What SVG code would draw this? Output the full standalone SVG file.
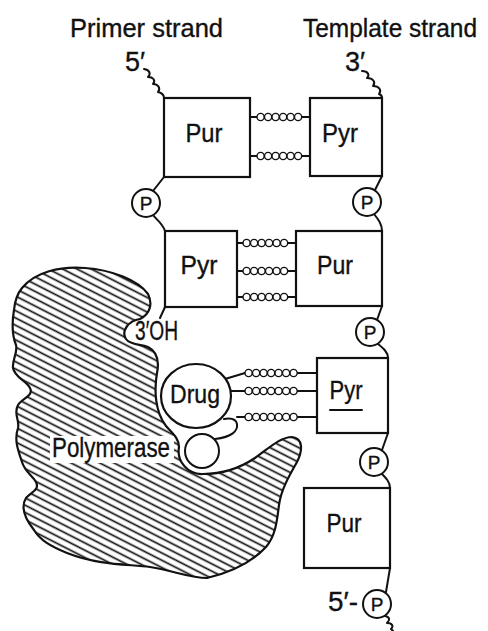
<svg xmlns="http://www.w3.org/2000/svg" xmlns:xlink="http://www.w3.org/1999/xlink" width="488" height="631" viewBox="0 0 488 631">
  <style>
    .ln { fill: none; stroke: #111; stroke-width: 2; stroke-linecap: round; stroke-linejoin: round; }
    .box { fill: #fff; stroke: #111; stroke-width: 2.2; }
    .bead { fill: #fff; stroke: #111; stroke-width: 1.4; }
    .pc { fill: #fff; stroke: #111; stroke-width: 2; }
    text { font-family: "Liberation Sans", Arial, sans-serif; fill: #111; stroke: #111; stroke-width: 0.35; }
    .lbl { font-size: 27px; }
    .title { font-size: 25px; }
    .base { font-size: 26px; text-anchor: middle; }
    .p { font-size: 19px; text-anchor: middle; }
  </style>
  <defs>
    <pattern id="hatch" patternUnits="userSpaceOnUse" width="6.5" height="6.5" patternTransform="rotate(27)">
      <line x1="0" y1="3.25" x2="6.5" y2="3.25" stroke="#111" stroke-width="1.7"/>
    </pattern>
    <g id="chain6">
      <circle class="bead" cx="0" cy="0" r="3.6"/>
      <circle class="bead" cx="7.5" cy="0" r="3.6"/>
      <circle class="bead" cx="15" cy="0" r="3.6"/>
      <circle class="bead" cx="22.5" cy="0" r="3.6"/>
      <circle class="bead" cx="30" cy="0" r="3.6"/>
      <circle class="bead" cx="37.5" cy="0" r="3.6"/>
    </g>
    <g id="chain7">
      <use xlink:href="#chain6"/>
      <circle class="bead" cx="45" cy="0" r="3.6"/>
    </g>
  </defs>

  <rect width="488" height="631" fill="#fff"/>

  <!-- strand titles -->
  <g id="titles">
    <text class="title" x="70" y="37" textLength="153" lengthAdjust="spacingAndGlyphs">Primer strand</text>
    <text class="title" x="303" y="37" textLength="174" lengthAdjust="spacingAndGlyphs">Template strand</text>
    <text class="lbl" x="125" y="71" font-size="24">5′</text>
    <text class="lbl" x="345" y="71" font-size="24">3′</text>
  </g>

  <!-- polymerase enzyme -->
  <g id="polymerase">
    <path d="M 22,288 C 35,272 60,266 85,268 C 112,270 138,280 148,294 C 153,304 150,314 140,319 C 128,321 121,331 126,339 C 130,345 140,344 148,347 C 158,352 159,363 157,373 C 154,390 155,412 166,426 C 172,433 179,438 179,447 A 23,23 0 0 0 203,474 C 222,474 240,468 255,458 C 268,449 280,437 292,437 C 303,438 303,450 297,462 C 289,476 281,490 279,505 C 277,520 276,535 266,547 C 252,562 232,572 207,578 C 190,578 175,571 150,567 C 130,564 100,566 67,553 C 50,546 40,540 34,530 C 26,520 20,508 26,498 C 31,492 40,490 36,482 C 32,475 25,472 22,462 C 18,450 14,440 18,428 C 20,420 13,414 18,405 C 22,398 34,396 30,388 C 26,380 15,378 13,368 C 12,360 18,352 16,345 C 12,335 12,322 14,310 C 15,300 17,294 22,288 Z" fill="url(#hatch)" stroke="#111" stroke-width="2.2"/>
    <rect x="50" y="436" width="124" height="27" fill="#fff"/>
    <text class="lbl" x="52" y="457" font-size="25" textLength="118" lengthAdjust="spacingAndGlyphs">Polymerase</text>
    <path class="ln" d="M 224,419 C 230,418 236,419 237,424 C 238,431 232,437 215,439"/>
    <circle id="site" cx="202" cy="451" r="17" fill="#fff" stroke="#111" stroke-width="2"/>
  </g>

  <!-- connectors: backbones and base-pair bonds -->
  <g id="connectors">
    <!-- primer backbone -->
    <path class="ln" d="M 144,69 C 150,70 151,74 148,77 C 153,77 156,80 153,84 C 158,84 161,88 158,92 C 162,93 164,95 164,98"/>
    <path class="ln" d="M 164,177 L 153,191"/>
    <path class="ln" d="M 153,215 C 157,220 163,224 165,231"/>
    <path class="ln" d="M 165,307 L 160,318"/>
    <!-- template backbone -->
    <path class="ln" d="M 362,71 C 368,71 370,75 367,78 C 373,78 376,82 373,86 C 379,86 382,90 379,94 C 382,95 382,97 382,98"/>
    <path class="ln" d="M 382,176 L 375,190"/>
    <path class="ln" d="M 374,214 C 378,219 382,224 382,231"/>
    <path class="ln" d="M 382,306 L 377,320"/>
    <path class="ln" d="M 378,344 C 383,348 388,352 388,358"/>
    <path class="ln" d="M 388,433 L 382,450"/>
    <path class="ln" d="M 382,474 C 386,478 390,482 390,488"/>
    <path class="ln" d="M 390,568 L 386,592"/>
    <path class="ln" d="M 385,616 C 390,617 390,620 387,623 C 392,623 394,626 391,629 L 393,631"/>
    <!-- bonds, row 1 -->
    <line class="ln" x1="250" y1="117" x2="310" y2="117" stroke-width="1.6"/>
    <line class="ln" x1="250" y1="156" x2="310" y2="156" stroke-width="1.6"/>
    <use xlink:href="#chain6" x="260.6" y="117"/>
    <use xlink:href="#chain6" x="260.6" y="156"/>
    <!-- bonds, row 2 -->
    <line class="ln" x1="237" y1="243" x2="296" y2="243" stroke-width="1.6"/>
    <line class="ln" x1="237" y1="271" x2="296" y2="271" stroke-width="1.6"/>
    <line class="ln" x1="237" y1="297" x2="296" y2="297" stroke-width="1.6"/>
    <use xlink:href="#chain6" x="246.6" y="243"/>
    <use xlink:href="#chain6" x="246.6" y="271"/>
    <use xlink:href="#chain6" x="246.6" y="297"/>
    <!-- bonds, drug to template -->
    <path class="ln" d="M 225,379 L 245,373 L 317,373" stroke-width="1.6"/>
    <line class="ln" x1="231" y1="391" x2="317" y2="391" stroke-width="1.6"/>
    <line class="ln" x1="237" y1="417" x2="317" y2="417" stroke-width="1.6"/>
    <use xlink:href="#chain7" x="248.6" y="373"/>
    <use xlink:href="#chain7" x="248.6" y="391"/>
    <use xlink:href="#chain7" x="248.6" y="417"/>
  </g>

  <!-- bases -->
  <g id="pur1"><rect class="box" x="164" y="98" width="86" height="79"/><text class="base" x="204" y="142" textLength="37" lengthAdjust="spacingAndGlyphs">Pur</text></g>
  <g id="pyr1"><rect class="box" x="310" y="98" width="72" height="78"/><text class="base" x="340" y="142" textLength="36" lengthAdjust="spacingAndGlyphs">Pyr</text></g>
  <g id="pyr2"><rect class="box" x="165" y="231" width="72" height="76"/><text class="base" x="199" y="274" textLength="37" lengthAdjust="spacingAndGlyphs">Pyr</text></g>
  <g id="pur2"><rect class="box" x="296" y="231" width="86" height="75"/><text class="base" x="335" y="274" textLength="36" lengthAdjust="spacingAndGlyphs">Pur</text></g>
  <g id="pyr3">
    <rect class="box" x="317" y="358" width="71" height="75"/>
    <text class="base" x="346" y="399" textLength="33" lengthAdjust="spacingAndGlyphs">Pyr</text>
    <line class="ln" x1="330" y1="410" x2="362" y2="410" stroke-width="1.8"/>
  </g>
  <g id="pur3"><rect class="box" x="304" y="488" width="86" height="80"/><text class="base" x="344" y="532" textLength="35" lengthAdjust="spacingAndGlyphs">Pur</text></g>

  <!-- drug -->
  <g id="drug">
    <ellipse cx="196" cy="396" rx="35" ry="32" fill="#fff" stroke="#111" stroke-width="2.2"/>
    <text class="base" x="195" y="403" textLength="50" lengthAdjust="spacingAndGlyphs">Drug</text>
  </g>

  <!-- 3' hydroxyl end -->
  <g id="oh3">
    <text class="lbl" x="135" y="340" font-size="24" textLength="43" lengthAdjust="spacingAndGlyphs">3′OH</text>
  </g>

  <!-- phosphates -->
  <g id="p1"><circle class="pc" cx="146" cy="203" r="14"/><text class="p" x="146" y="210">P</text></g>
  <g id="p2"><circle class="pc" cx="367" cy="202" r="14"/><text class="p" x="367" y="209">P</text></g>
  <g id="p3"><circle class="pc" cx="370" cy="332" r="14"/><text class="p" x="370" y="339">P</text></g>
  <g id="p4"><circle class="pc" cx="374" cy="462" r="14"/><text class="p" x="374" y="469">P</text></g>
  <g id="p5">
    <circle class="pc" cx="377" cy="604" r="14"/><text class="p" x="377" y="611">P</text>
    <text class="lbl" x="328" y="611" font-size="24" textLength="30" lengthAdjust="spacingAndGlyphs">5′-</text>
  </g>
</svg>
